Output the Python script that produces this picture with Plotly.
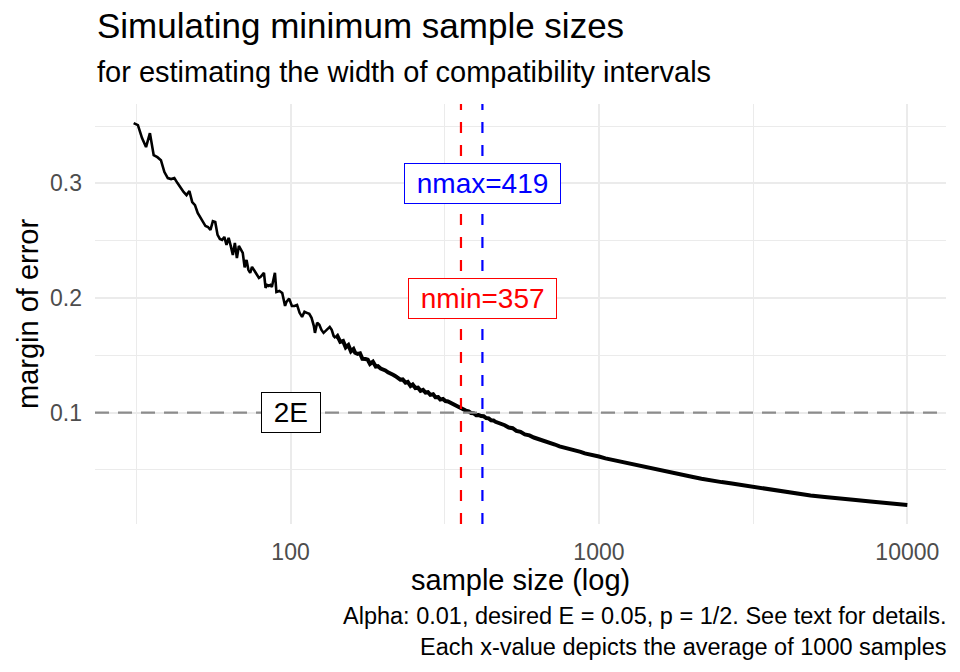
"""Minimum sample size simulation: margin of error against sample size (log x)."""
import math

import plotly.graph_objects as go

# values
sample_size = [
    31, 32, 33, 34, 35, 36, 37, 38, 39, 40, 41, 42, 43, 44, 45, 46, 47, 48, 49, 50,
    51, 52, 53, 54, 55, 56, 57, 58, 59, 60, 61, 62, 63, 64, 65, 66, 67, 68, 69, 70,
    71, 72, 73, 74, 75, 76, 77, 78, 79, 80, 81, 82, 83, 84, 85, 86, 87, 88, 89, 90,
    92, 94, 95, 96, 97, 99, 101, 103, 105, 107, 109, 111, 113, 115, 117, 119, 120,
    122, 124, 126, 128, 130, 132, 134, 136, 138, 140,
    142, 145, 148, 151, 154, 157, 160, 162, 165, 168, 171, 175, 178, 181, 185, 189,
    192, 196, 199, 203, 207, 211, 215, 219, 223, 227, 231, 236, 240, 245, 249, 254,
    259, 264, 269, 274, 279, 284, 290, 295, 301, 306, 312, 318, 324, 330, 336, 343,
    349, 356, 363, 370, 378, 385, 393, 400, 407, 415, 423, 431, 439, 447, 455, 462,
    470, 480, 495, 510, 525, 540, 557, 575, 595, 615, 635, 655, 675, 697, 720, 745,
    770, 795, 820, 845, 872, 900, 930, 965, 1000, 1050, 1100, 1175, 1250, 1350, 1470,
    1600, 1720, 1839, 2000, 2150, 2301, 2500, 2700, 2878, 3171, 3500, 3881, 4300,
    4855, 5400, 6074, 6800, 7599, 8700, 10000,
]
margin_of_error = [
    0.3526, 0.3508, 0.3395, 0.3317, 0.3439, 0.3247, 0.3229, 0.3203, 0.3099, 0.3047,
    0.3038, 0.3047, 0.3003, 0.2960, 0.2925, 0.2898, 0.2933, 0.2837, 0.2811, 0.2742,
    0.2707, 0.2663, 0.2628, 0.2620, 0.2594, 0.2671, 0.2663, 0.2551, 0.2516, 0.2507,
    0.2533, 0.2463, 0.2525, 0.2455, 0.2375, 0.2481, 0.2349, 0.2455, 0.2420, 0.2394,
    0.2268, 0.2333, 0.2246, 0.2220, 0.2272, 0.2246, 0.2220, 0.2194, 0.2176, 0.2185,
    0.2202, 0.2220, 0.2088, 0.2114, 0.2106, 0.2114, 0.2097, 0.2158, 0.2220, 0.2052,
    0.2061, 0.2044, 0.1983, 0.1931, 0.1966, 0.1995, 0.1931, 0.1931, 0.1940, 0.1871,
    0.1836, 0.1880, 0.1871, 0.1862, 0.1827, 0.1757, 0.1696, 0.1784, 0.1766, 0.1722,
    0.1696, 0.1713, 0.1730, 0.1748, 0.1722, 0.1669, 0.1651,
    0.1668, 0.1618, 0.1625, 0.1570, 0.1590, 0.1535, 0.1555, 0.1522, 0.1512, 0.1518,
    0.1470, 0.1468, 0.1462, 0.1425, 0.1445, 0.1402, 0.1405, 0.1385, 0.1380, 0.1368,
    0.1352, 0.1345, 0.1330, 0.1318, 0.1305, 0.1288, 0.1290, 0.1262, 0.1268, 0.1232,
    0.1245, 0.1215, 0.1218, 0.1190, 0.1198, 0.1175, 0.1178, 0.1155, 0.1160, 0.1135,
    0.1136, 0.1114, 0.1120, 0.1101, 0.1098, 0.1086, 0.1078, 0.1066, 0.1050, 0.1033,
    0.1030, 0.1018, 0.1012, 0.0996, 0.0994, 0.0978, 0.0980, 0.0970, 0.0968, 0.0953,
    0.0950, 0.0933, 0.0932, 0.0920, 0.0914, 0.0900, 0.0890, 0.0870, 0.0864, 0.0840,
    0.0832, 0.0810, 0.0802, 0.0783, 0.0772, 0.0758, 0.0746, 0.0731, 0.0722, 0.0706,
    0.0697, 0.0684, 0.0676, 0.0663, 0.0658, 0.0644, 0.0638, 0.0624, 0.0617, 0.0601,
    0.0589, 0.0572, 0.0557, 0.0534, 0.0516, 0.0491, 0.0477, 0.0456, 0.0441, 0.0424,
    0.0414, 0.0394, 0.0381, 0.0369, 0.0351, 0.0333, 0.0312, 0.0294, 0.0277, 0.0263,
    0.0254, 0.0238, 0.0224, 0.0208, 0.0195,
]

two_e = 0.1
n_min = 357
n_max = 419

x_ticks = [100, 1000, 10000]
x_tick_labels = ["100", "1000", "10000"]
x_minor = [31.62, 316.2, 3162]
y_ticks = [0.1, 0.2, 0.3]
y_tick_labels = ["0.1", "0.2", "0.3"]
y_minor = [0.05, 0.15, 0.25, 0.35]

FONT = "Liberation Sans, Arial, Helvetica, sans-serif"
GRID = "#EBEBEB"

fig = go.Figure()

# many samples per pixel past n=140 make the simulated line look thicker there
split = sample_size.index(140)
fig.add_trace(go.Scatter(
    x=sample_size[:split + 1], y=margin_of_error[:split + 1], mode="lines",
    line=dict(color="black", width=2.6), hoverinfo="x+y",
))
fig.add_trace(go.Scatter(
    x=sample_size[split:], y=margin_of_error[split:], mode="lines",
    line=dict(color="black", width=4.0), hoverinfo="x+y",
))

# reference lines (data values on the log axis)
fig.add_shape(type="line", xref="x domain", x0=0, x1=1, yref="y", y0=two_e, y1=two_e,
              line=dict(color="#8c8c8c", width=2.2, dash="14px,9px"), layer="above")
fig.add_shape(type="line", xref="x", x0=n_min, x1=n_min, yref="y domain", y0=0, y1=1,
              line=dict(color="#FF0000", width=2.2, dash="11px,12px"), layer="above")
fig.add_shape(type="line", xref="x", x0=n_max, x1=n_max, yref="y domain", y0=0, y1=1,
              line=dict(color="#0000FF", width=2.2, dash="11px,12px"), layer="above")


def label(text, x, y, color):
    # annotation x on a log axis is given in log10 units
    fig.add_annotation(
        x=math.log10(x), y=y, xref="x", yref="y", text="\u00a0" + text + "\u00a0",
        showarrow=False, font=dict(family=FONT, size=28, color=color),
        bgcolor="white", bordercolor=color, borderwidth=1, borderpad=4,
    )


label("2E", 100, two_e, "black")
label(f"nmin={n_min}", n_max, 0.2, "#FF0000")
label(f"nmax={n_max}", n_max, 0.3, "#0000FF")

texts = [
    dict(text="Simulating minimum sample sizes", x=0, y=1.186, xanchor="left",
         size=35, align="left"),
    dict(text="for estimating the width of compatibility intervals", x=0, y=1.076,
         xanchor="left", size=29, align="left"),
    dict(text="sample size (log)", x=0.5, y=-0.133, xanchor="center", size=29,
         align="center"),
    dict(text="Alpha: 0.01, desired E = 0.05, p = 1/2. See text for details.<br>"
              "Each x-value depicts the average of 1000 samples",
         x=1, y=-0.257, xanchor="right", size=23.5, align="right"),
]
for t in texts:
    fig.add_annotation(
        text=t["text"], x=t["x"], y=t["y"], xref="paper", yref="paper",
        xanchor=t["xanchor"], yanchor="middle", align=t["align"], showarrow=False,
        xshift=3 if t["xanchor"] == "right" else 0,
        font=dict(family=FONT, size=t["size"], color="black"),
    )
fig.add_annotation(
    text="margin of error", x=-0.0787, y=0.5, xref="paper", yref="paper",
    xanchor="center", yanchor="middle", textangle=-90, showarrow=False,
    font=dict(family=FONT, size=29, color="black"),
)

fig.update_layout(
    width=960, height=672,
    margin=dict(l=95, r=14, t=104, b=148),
    paper_bgcolor="white", plot_bgcolor="white",
    showlegend=False,
    font=dict(family=FONT, color="#4D4D4D"),
    xaxis=dict(
        type="log", range=[1.366, 4.1254],
        tickmode="array", tickvals=x_ticks, ticktext=x_tick_labels,
        tickfont=dict(size=23, color="#4D4D4D"), ticks="", ticklabelstandoff=12,
        showgrid=True, gridcolor=GRID, gridwidth=2, zeroline=False, showline=False,
        minor=dict(tickmode="array", tickvals=x_minor, showgrid=True,
                   gridcolor=GRID, gridwidth=1.2, ticks=""),
    ),
    yaxis=dict(
        range=[0.00284, 0.3693],
        tickmode="array", tickvals=y_ticks, ticktext=y_tick_labels,
        tickfont=dict(size=23, color="#4D4D4D"), ticks="", ticklabelstandoff=12,
        showgrid=True, gridcolor=GRID, gridwidth=2, zeroline=False, showline=False,
        minor=dict(tickmode="array", tickvals=y_minor, showgrid=True,
                   gridcolor=GRID, gridwidth=1.2, ticks=""),
    ),
)

# the page's default body margin would push the figure 8px off the corner
fig.write_html(
    "out.html",
    config={"displayModeBar": False},
    post_script="document.body.style.margin = '0px';",
)
